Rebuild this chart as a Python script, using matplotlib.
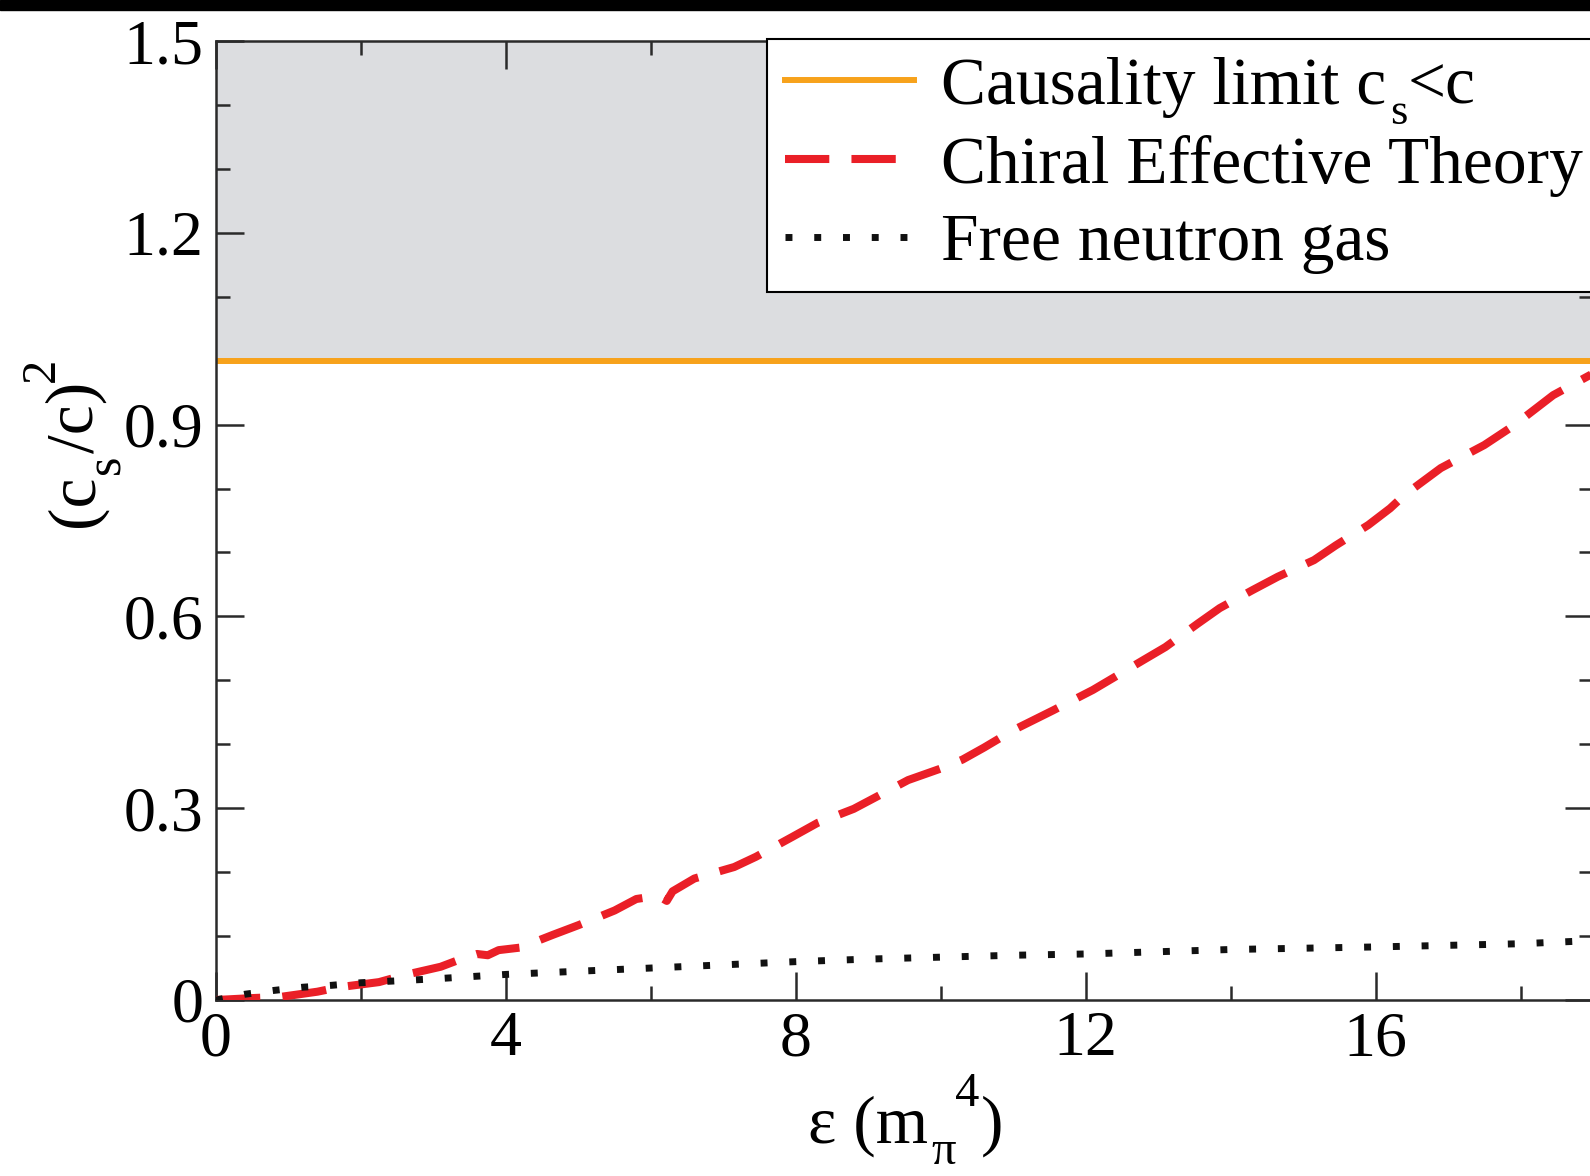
import matplotlib
matplotlib.use("Agg")
import matplotlib.pyplot as plt
from matplotlib.patches import Rectangle
from matplotlib.ticker import MultipleLocator, FuncFormatter

plt.rcParams["font.family"] = ["Liberation Serif", "DejaVu Serif"]

# dane
causal_limit = 1.0

eps_chiral = [0.0, 0.5, 0.9, 1.4, 1.7, 2.25, 2.6, 3.1, 3.45, 3.6, 3.75, 3.9, 4.2,
              4.65, 5.0, 5.5, 5.8, 6.1, 6.22, 6.3, 6.6, 7.15, 7.45, 7.95, 8.3,
              8.8, 9.1, 9.55, 10.0, 10.3, 10.6, 11.0, 11.55, 12.1, 12.8, 13.1,
              13.55, 13.85, 14.3, 14.65, 15.15, 15.45, 15.9, 16.2, 16.4, 16.9,
              17.2, 17.5, 17.9, 18.45, 19.0]
cs2_chiral = [0.000, 0.003, 0.005, 0.013, 0.020, 0.028, 0.039, 0.052, 0.067, 0.072,
              0.070, 0.078, 0.082, 0.102, 0.117, 0.140, 0.158, 0.163, 0.155, 0.170,
              0.190, 0.208, 0.224, 0.255, 0.277, 0.299, 0.317, 0.344, 0.362, 0.376,
              0.395, 0.422, 0.453, 0.485, 0.532, 0.552, 0.589, 0.613, 0.641, 0.662,
              0.688, 0.711, 0.743, 0.769, 0.790, 0.832, 0.850, 0.868, 0.898, 0.946,
              0.980]

eps_free = [0.0, 0.4, 0.8, 1.2, 1.6, 2.0, 3.0, 4.0, 5.0, 6.0, 7.0, 8.0, 9.0, 10.0,
            11.0, 12.0, 14.0, 16.0, 18.0, 19.0]
cs2_free = [0.000, 0.009, 0.015, 0.020, 0.023, 0.027, 0.033, 0.040, 0.045, 0.050,
            0.055, 0.060, 0.064, 0.067, 0.070, 0.072, 0.079, 0.083, 0.088, 0.093]

# pierwsza etykieta: indeks "s" i "<c" dokladane osobno
labels = ["Causality limit c", "Chiral Effective Theory", "Free neutron gas"]

W, H = 1590, 1176
fig = plt.figure(figsize=(W / 100, H / 100), dpi=100)
ax = fig.add_axes([216 / W, 1 - 1000 / H, (1593 - 216) / W, (1000 - 41) / H])

ax.axhspan(causal_limit, 1.5, color="#dcdde0", zorder=0, lw=0)
ax.axhline(causal_limit, color="#f7a21b", lw=4.3, label=labels[0], zorder=2)
ax.plot(eps_chiral, cs2_chiral, color="#ea1f27", lw=5.8, dashes=(5.5, 2.75),
        label=labels[1], zorder=3)
ax.plot(eps_free, cs2_free, color="#111111", lw=5.0, dashes=(1, 3.14),
        label=labels[2], zorder=4)

ax.set_xlim(0, 19)
ax.set_ylim(0, 1.5)
ax.xaxis.set_major_locator(MultipleLocator(4))
ax.xaxis.set_minor_locator(MultipleLocator(2))
ax.yaxis.set_major_locator(MultipleLocator(0.3))
ax.yaxis.set_minor_locator(MultipleLocator(0.1))
ax.xaxis.set_major_formatter(FuncFormatter(lambda v, p: "%d" % round(v)))
ax.yaxis.set_major_formatter(FuncFormatter(lambda v, p: "0" if abs(v) < 1e-9 else "%.1f" % v))

for s in ax.spines.values():
    s.set_linewidth(1.8)
    s.set_color("#2a2a2a")
ax.tick_params(which="both", direction="in", top=True, right=True,
               width=1.8, color="#2a2a2a", labelsize=46)
ax.tick_params(which="major", length=20)
ax.tick_params(which="minor", length=10)
ax.tick_params(axis="y", pad=9)
ax.tick_params(axis="x", pad=8)

leg = ax.legend(loc="upper left", bbox_to_anchor=(767 / W, 1 - 39 / H),
                bbox_transform=fig.transFigure, borderaxespad=0, fontsize=48.5,
                handlelength=1.92, handletextpad=0.4, borderpad=0.26,
                labelspacing=0.25, fancybox=False, framealpha=1, edgecolor="black")
leg.get_frame().set_linewidth(1.5)

fig.add_artist(Rectangle((0, 1 - 10 / H), 1, 10 / H, transform=fig.transFigure,
                         color="black", zorder=10))

fig.canvas.draw()
r = fig.canvas.get_renderer()


def pieces_h(parts, x, base):
    # kawalki tekstu jeden za drugim, w pikselach od dolu
    for txt, fs, shift, gap in parts:
        t = fig.text((x + gap) / W, (base + shift) / H, txt, fontsize=fs,
                     ha="left", va="baseline")
        x = t.get_window_extent(r).x1


def pieces_v(parts, xb, y):
    for txt, fs, shift, gap in parts:
        t = fig.text((xb - shift) / W, (y + gap) / H, txt, fontsize=fs, rotation=90,
                     rotation_mode="anchor", ha="left", va="baseline")
        y = t.get_window_extent(r).y1


# legenda: c_s<c
t0 = leg.get_texts()[0]
bb = t0.get_window_extent(r)
fp = t0.get_fontproperties()
d = max(r.get_text_width_height_descent("lp", fp, ismath=False)[2],
        r.get_text_width_height_descent(t0.get_text(), fp, ismath=False)[2])
base0 = bb.y0 + d
pieces_h([("s", 32, -20, 4), ("<c", 48.5, 0, 0)], bb.x1, base0)

# os x: eps (m_pi^4)
pieces_h([("ε (m", 48.5, 0, 0), ("π", 35, -21, 3), ("4", 35, 37, 0), (")", 48.5, 0, 1)],
         808, H - 1143)

# os y: (c_s/c)^2
pieces_v([("(c", 48.5, 0, 0), ("s", 36, -27, 1), ("/c)", 48.5, 0, 1), ("2", 35, 39, 0)],
         93, H - 527)

fig.savefig("out.png", dpi=100)
